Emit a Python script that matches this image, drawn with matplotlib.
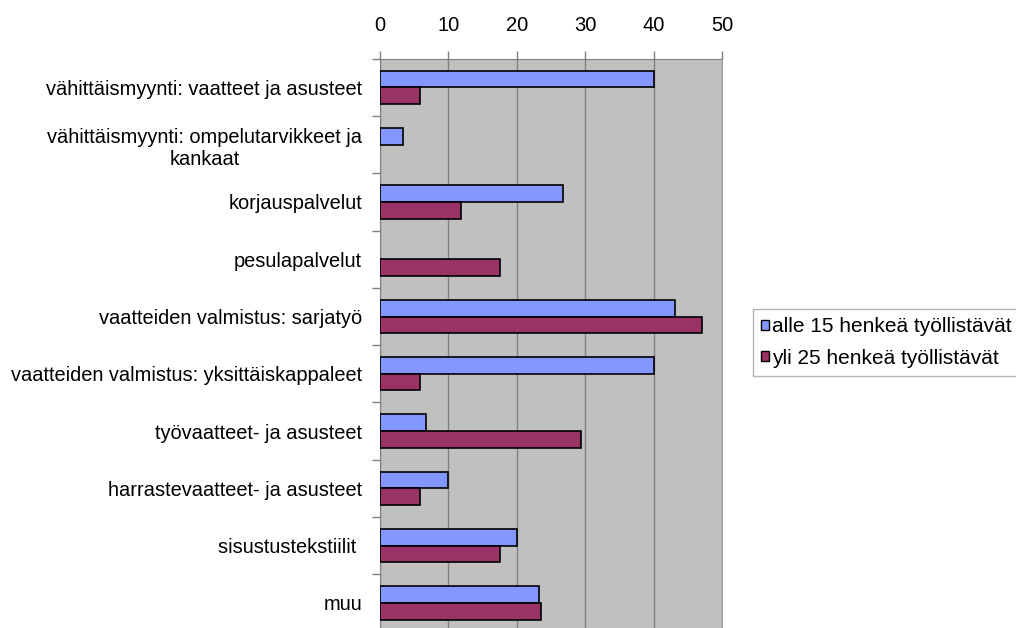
import numpy as np
import matplotlib.pyplot as plt

plt.rcParams['font.family'] = ['Liberation Sans', 'DejaVu Sans']

categories = [
    "vähittäismyynti: vaatteet ja asusteet",
    "vähittäismyynti: ompelutarvikkeet ja\nkankaat",
    "korjauspalvelut",
    "pesulapalvelut",
    "vaatteiden valmistus: sarjatyö",
    "vaatteiden valmistus: yksittäiskappaleet",
    "työvaatteet- ja asusteet",
    "harrastevaatteet- ja asusteet",
    "sisustustekstiilit ",
    "muu",
]
small_firms = [40.1, 3.4, 26.7, 0, 43.2, 40.1, 6.7, 9.9, 20.0, 23.3]   # alle 15 henkeä
large_firms = [5.9, 0, 11.8, 17.6, 47.1, 5.9, 29.4, 5.9, 17.6, 23.5]   # yli 25 henkeä
series_names = ["alle 15 henkeä työllistävät", "yli 25 henkeä työllistävät"]
x_ticks = [0, 10, 20, 30, 40, 50]

fig = plt.figure(figsize=(10.16, 6.28), dpi=100)
ax = fig.add_axes([380/1016, 1 - 631.6/628, 342/1016, 572.9/628])

y = np.arange(len(categories))
h = 0.29
# no outline for empty bars
lw_small = [1.2 if v > 0 else 0 for v in small_firms]
lw_large = [1.2 if v > 0 else 0 for v in large_firms]
ax.barh(y - h/2, small_firms, height=h, color='#8497FF', edgecolor='black',
        linewidth=lw_small, label=series_names[0], zorder=3)
ax.barh(y + h/2, large_firms, height=h, color='#993366', edgecolor='black',
        linewidth=lw_large, label=series_names[1], zorder=3)

ax.set_facecolor('#C0C0C0')
ax.set_xlim(0, 50)
ax.set_ylim(len(categories) - 0.5, -0.5)

# x axis on top
ax.xaxis.tick_top()
ax.set_xticks(x_ticks)
ax.tick_params(axis='x', which='major', length=6, width=1, color='#808080',
               labelsize=14.5, pad=11)
ax.grid(axis='x', color='#808080', linewidth=1, zorder=1)

# category labels at centres, tick marks on boundaries
ax.set_yticks(y)
ax.set_yticklabels(categories, multialignment='center')
ax.set_yticks(np.arange(len(categories) + 1) - 0.5, minor=True)
ax.tick_params(axis='y', which='major', length=0, labelsize=14.4, pad=13)
ax.tick_params(axis='y', which='minor', length=6, width=1, color='#808080')

for side in ['top', 'left']:
    ax.spines[side].set_color('#808080')
for side in ['right', 'bottom']:
    ax.spines[side].set_color('#A0A0A0')

leg = fig.legend([plt.Rectangle((0, 0), 1, 1, fc='#8497FF', ec='black', lw=1),
                  plt.Rectangle((0, 0), 1, 1, fc='#993366', ec='black', lw=1)],
                 series_names,
                 loc='upper left', bbox_to_anchor=(753/1016, 1 - 309/628),
                 frameon=True, fancybox=False, edgecolor='#A0A0A0',
                 fontsize=15, handlelength=0.38, handleheight=0.38,
                 handletextpad=0.12, borderpad=0.4, labelspacing=0.6,
                 borderaxespad=0)
leg.get_frame().set_linewidth(1)

fig.savefig('out.png', dpi=100)
